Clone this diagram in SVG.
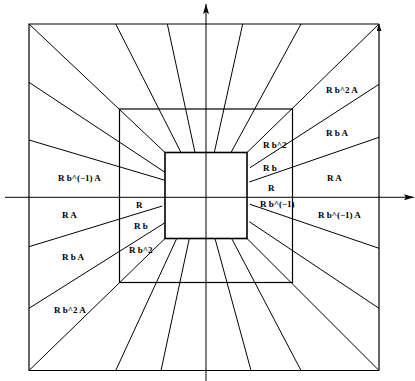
<svg xmlns="http://www.w3.org/2000/svg" width="415" height="381" viewBox="0 0 415 381">
<style>
.l{stroke:#000;stroke-width:1;fill:none}
.sq{stroke:#000;stroke-width:1.2;fill:none}
.in{stroke:#000;stroke-width:1.6;fill:none}
text{font-family:"Liberation Serif","Times New Roman",serif;font-weight:bold;font-size:9px;fill:#000}
</style>
<defs>
<marker id="ah" markerWidth="10" markerHeight="6" refX="10" refY="3" orient="auto" markerUnits="userSpaceOnUse">
<path d="M0,0 L10,3 L0,6 L2,3 Z" fill="#000"/>
</marker>
<marker id="ahs" markerWidth="7" markerHeight="5" refX="7" refY="2.5" orient="auto" markerUnits="userSpaceOnUse">
<path d="M0,0 L7,2.5 L0,5 Z" fill="#000"/>
</marker>
</defs>
<rect width="415" height="381" fill="#fff"/>
<g id="squares">
<path class="sq" d="M379,370.5 L29,370.5 L29,24 L379,24"/>
<line class="sq" x1="379" y1="370.5" x2="379" y2="24" marker-end="url(#ahs)"/>
<rect class="sq" x="119.5" y="109" width="173" height="173.5"/>
<rect class="in" x="165" y="152.5" width="82" height="86"/>
</g>
<g id="axes">
<line class="l" x1="5" y1="197.3" x2="414" y2="197.3" marker-end="url(#ah)"/>
<line class="l" x1="206" y1="381" x2="206" y2="4" marker-end="url(#ah)"/>
</g>
<g id="connectors">
<line class="l" x1="29" y1="24" x2="165" y2="152.5"/>
<line class="l" x1="115.7" y1="24" x2="181" y2="152.5"/>
<line class="l" x1="167.3" y1="24" x2="195" y2="152.5"/>
<line class="l" x1="242.7" y1="24" x2="214.3" y2="152.5"/>
<line class="l" x1="301" y1="24" x2="231" y2="152.5"/>
<line class="l" x1="379" y1="24" x2="247" y2="152.5"/>
<line class="l" x1="29" y1="82.3" x2="165" y2="172.3"/>
<line class="l" x1="29" y1="140" x2="165" y2="180.3"/>
<line class="l" x1="29" y1="246.7" x2="162.3" y2="206"/>
<line class="l" x1="29" y1="308.3" x2="165" y2="222.7"/>
<line class="l" x1="29" y1="370.5" x2="165" y2="238.5"/>
<line class="l" x1="379" y1="84.3" x2="250" y2="167.7"/>
<line class="l" x1="379" y1="137.3" x2="249.3" y2="182"/>
<line class="l" x1="379" y1="248.3" x2="250" y2="204.3"/>
<line class="l" x1="379" y1="308.3" x2="249.3" y2="221.7"/>
<line class="l" x1="379" y1="370.5" x2="247" y2="238.5"/>
<line class="l" x1="115.7" y1="370.5" x2="176.7" y2="238.5"/>
<line class="l" x1="161" y1="370.5" x2="189.3" y2="238.5"/>
<line class="l" x1="251" y1="370.5" x2="215" y2="238.5"/>
<line class="l" x1="301" y1="370.5" x2="231.7" y2="238.5"/>
</g>
<g id="labels">
<text x="326" y="93">R b^2 A</text>
<text x="326" y="136">R b A</text>
<text x="327" y="181">R A</text>
<text x="263" y="148">R b^2</text>
<text x="263" y="171">R b</text>
<text x="268" y="191">R</text>
<text x="58" y="181">R b^(−1) A</text>
<text x="260" y="207">R b^(−1)</text>
<text x="318" y="218">R b^(−1) A</text>
<text x="62" y="218">R A</text>
<text x="136" y="208">R</text>
<text x="134" y="229">R b</text>
<text x="129" y="253">R b^2</text>
<text x="62" y="260">R b A</text>
<text x="54" y="313">R b^2 A</text>
</g>
</svg>
